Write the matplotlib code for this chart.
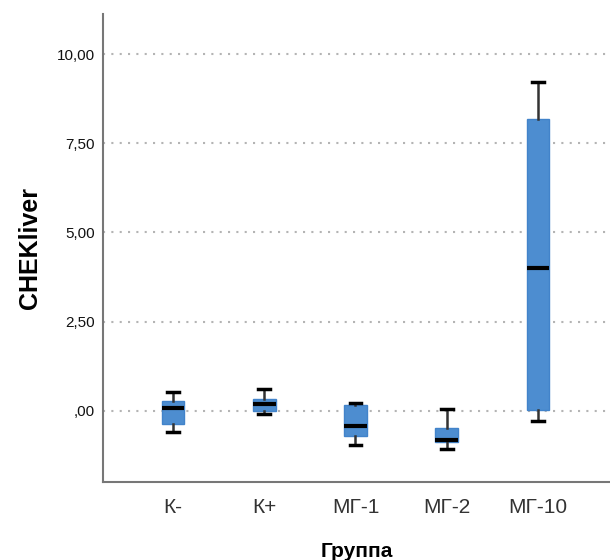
import matplotlib
matplotlib.use('Agg')
import matplotlib.pyplot as plt

plt.rcParams['font.family'] = ['Liberation Sans', 'DejaVu Sans']

groups = ['К-', 'К+', 'МГ-1', 'МГ-2', 'МГ-10']
whislo = [-0.61, -0.08, -0.96, -1.08, -0.28]
q1 = [-0.36, -0.02, -0.70, -0.89, 0.02]
med = [0.08, 0.19, -0.42, -0.81, 4.00]
q3 = [0.26, 0.33, 0.16, -0.49, 8.19]
whishi = [0.51, 0.61, 0.22, 0.05, 9.22]

yticks = [0, 2.5, 5, 7.5, 10]
ytick_labels = [',00', '2,50', '5,00', '7,50', '10,00']

stats = []
for i in range(len(groups)):
    stats.append(dict(label=groups[i], whislo=whislo[i], q1=q1[i], med=med[i],
                      q3=q3[i], whishi=whishi[i], fliers=[]))

fig = plt.figure(figsize=(6.1, 5.6), dpi=100)
ax = fig.add_axes([0.169, 0.140, 0.831, 0.835])

ax.bxp(stats, positions=range(len(groups)), widths=0.25, patch_artist=True,
       showfliers=False,
       boxprops=dict(facecolor='#4d8dd0', edgecolor='#4283ca', lw=1),
       medianprops=dict(color='black', lw=3),
       whiskerprops=dict(color='#333333', lw=1.8),
       capprops=dict(color='black', lw=2.5),
       capwidths=0.13)

ax.set_axisbelow(True)
ax.yaxis.grid(True, color='#b4b4b4', lw=1.5, linestyle=(0, (1, 3)))

ax.set_xlim(-0.767, 4.79)
ax.set_ylim(-1.99, 11.13)
ax.set_yticks(yticks)
ax.set_yticklabels(ytick_labels, fontsize=11, color='#111111')
ax.set_xticks(range(len(groups)))
ax.set_xticklabels(groups, fontsize=15, color='#333333')
ax.tick_params(length=0)
ax.tick_params(axis='x', pad=12)
ax.tick_params(axis='y', pad=6)

for s in ['top', 'right']:
    ax.spines[s].set_visible(False)
for s in ['left', 'bottom']:
    ax.spines[s].set_color('#777777')
    ax.spines[s].set_linewidth(1.5)

ax.set_ylabel('CHEKliver', fontsize=18, fontweight='bold')
ax.set_xlabel('Группа', fontsize=15, fontweight='bold', labelpad=18)
ax.yaxis.set_label_coords(-0.12, 0.5)

plt.savefig('out.png', dpi=100)
